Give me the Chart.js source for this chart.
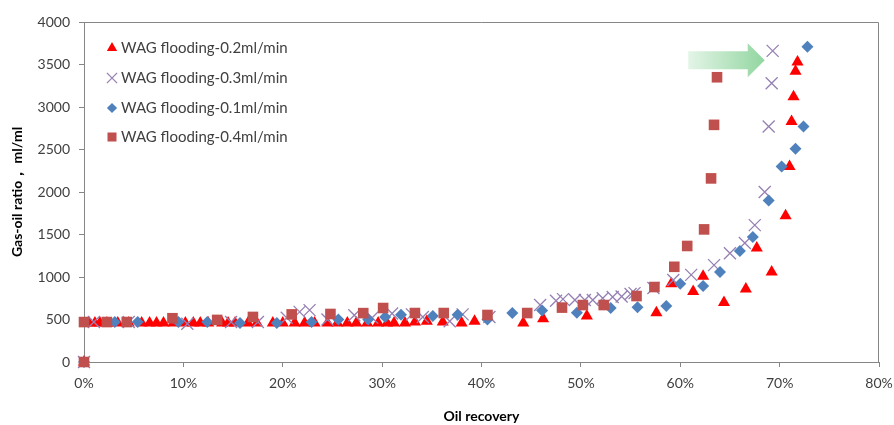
<!DOCTYPE html>
<html>
<head>
<meta charset="utf-8">
<script src="https://cdn.jsdelivr.net/npm/chart.js@4/dist/chart.umd.min.js"></script>
<style>
  html, body { margin: 0; padding: 0; background: #fff; }
  #wrap { width: 894px; height: 425px; position: relative; }
</style>
</head>
<body>
<div id="wrap"><canvas id="chart"></canvas></div>
<script>
// Oil recovery (%) vs gas-oil ratio (ml/ml)
const rate02X = [0, 0.5, 1.1, 1.6, 2.3, 3.4, 4.5, 5.8, 6.6, 7.3, 8.0, 9.0, 10.2, 11.0, 11.7, 12.5, 13.9, 14.5, 15.2, 16.5, 17.4, 19.0, 20.0, 21.2, 22.2, 23.2, 24.5, 25.5, 26.5, 27.4, 28.5, 29.6, 30.5, 31.2, 32.3, 33.3, 34.5, 36.1, 38.0, 39.3, 44.2, 46.2, 50.6, 57.6, 59.1, 61.3, 62.3, 64.4, 66.6, 67.7, 69.2, 70.6, 71.0, 71.2, 71.4, 71.6, 71.8];
const rate02Y = [0, 460, 460, 460, 460, 460, 460, 460, 460, 460, 460, 460, 460, 460, 460, 460, 460, 460, 460, 460, 460, 460, 460, 460, 460, 460, 460, 460, 460, 460, 460, 460, 460, 460, 460, 470, 480, 470, 460, 480, 460, 510, 540, 580, 920, 830, 1010, 700, 860, 1340, 1060, 1720, 2300, 2830, 3120, 3420, 3530];

const rate03X = [0, 1.0, 4.5, 10.4, 14.8, 17.5, 20.4, 21.7, 22.7, 24.5, 27.2, 29.0, 31.0, 33.0, 34.1, 36.8, 38.1, 40.8, 45.9, 47.5, 48.2, 49.4, 50.4, 51.2, 52.2, 53.2, 54.1, 55.0, 55.4, 57.3, 59.3, 61.1, 63.4, 65.0, 66.5, 67.5, 68.5, 68.9, 69.2, 69.3];
const rate03Y = [0, 470, 470, 450, 470, 470, 520, 590, 610, 500, 550, 520, 570, 560, 530, 480, 560, 530, 670, 720, 740, 730, 730, 730, 750, 765, 770, 800, 810, 870, 965, 1025, 1140, 1280, 1400, 1610, 2000, 2770, 3280, 3660];

const rate01X = [0, 3.1, 5.4, 9.5, 12.4, 15.7, 19.4, 22.9, 25.6, 28.6, 30.3, 31.9, 35.1, 37.6, 40.6, 43.1, 46.1, 49.6, 53.0, 55.7, 58.6, 60.0, 62.3, 64.0, 66.0, 67.3, 68.9, 70.2, 71.6, 72.4, 72.8];
const rate01Y = [0, 470, 470, 470, 470, 460, 460, 470, 500, 500, 530, 555, 540, 555, 500, 576, 605, 580, 635, 645, 660, 920, 895, 1060, 1305, 1470, 1900, 2300, 2510, 2770, 3710];

const rate04X = [0, 0, 2.3, 4.3, 8.9, 13.4, 17.0, 20.9, 24.8, 28.1, 30.1, 33.3, 36.2, 40.6, 44.6, 48.1, 50.2, 52.3, 55.6, 57.4, 59.4, 60.7, 62.4, 63.1, 63.4, 63.7];
const rate04Y = [0, 470, 470, 470, 515, 495, 530, 560, 565, 575, 635, 576, 576, 553, 576, 640, 670, 670, 776, 882, 1120, 1365, 1560, 2160, 2790, 3350];

const xTicks = [0, 10, 20, 30, 40, 50, 60, 70, 80];
const yTicks = [0, 500, 1000, 1500, 2000, 2500, 3000, 3500, 4000];

// arrow annotation in data coordinates: [tailX, headX, centerY]
const arrowSpan = [60.8, 68.5, 3550];

const FONT = "Lato, 'Open Sans', sans-serif";
const GREY = '#868686';

function pts(xs, ys) {
  return xs.map(function (x, i) { return { x: x, y: ys[i] }; });
}

const datasets = [
  { label: 'WAG flooding-0.2ml/min', data: pts(rate02X, rate02Y), pointStyle: 'triangle', pointRadius: 7,
    backgroundColor: '#FF0000', borderColor: '#FF0000', borderWidth: 0, order: 4, clip: false },
  { label: 'WAG flooding-0.3ml/min', data: pts(rate03X, rate03Y), pointStyle: 'crossRot', pointRadius: 8.5,
    backgroundColor: '#9680b3', borderColor: '#9680b3', borderWidth: 1.3, order: 3, clip: false },
  { label: 'WAG flooding-0.1ml/min', data: pts(rate01X, rate01Y), pointStyle: 'rectRot', pointRadius: 6,
    backgroundColor: '#4F81BD', borderColor: '#4F81BD', borderWidth: 0, order: 2, clip: false },
  { label: 'WAG flooding-0.4ml/min', data: pts(rate04X, rate04Y), pointStyle: 'rect', pointRadius: 7.5,
    backgroundColor: '#C0504D', borderColor: '#C0504D', borderWidth: 0, order: 1, clip: false }
];

// frame, arrow and the in-plot legend
const decor = {
  id: 'decor',
  afterDatasetsDraw: function (chart) {
    const ctx = chart.ctx;
    const a = chart.chartArea;
    const xs = chart.scales.x, ys = chart.scales.y;

    ctx.save();
    ctx.strokeStyle = GREY;
    ctx.lineWidth = 1;
    ctx.beginPath();
    ctx.moveTo(a.left, a.top + 0.5);
    ctx.lineTo(a.right - 0.5, a.top + 0.5);
    ctx.lineTo(a.right - 0.5, a.bottom);
    ctx.stroke();

    // green arrow
    const x0 = xs.getPixelForValue(arrowSpan[0]);
    const x1 = xs.getPixelForValue(arrowSpan[1]);
    const yc = ys.getPixelForValue(arrowSpan[2]);
    const headW = 17, bodyH = 9, headH = 17;
    const g = ctx.createLinearGradient(x0, 0, x1, 0);
    g.addColorStop(0, 'rgba(146,214,160,0.25)');
    g.addColorStop(1, 'rgba(146,214,160,1)');
    ctx.fillStyle = g;
    ctx.beginPath();
    ctx.moveTo(x0, yc - bodyH);
    ctx.lineTo(x1 - headW, yc - bodyH);
    ctx.lineTo(x1 - headW, yc - headH);
    ctx.lineTo(x1, yc);
    ctx.lineTo(x1 - headW, yc + headH);
    ctx.lineTo(x1 - headW, yc + bodyH);
    ctx.lineTo(x0, yc + bodyH);
    ctx.closePath();
    ctx.fill();

    // legend
    ctx.font = '15px ' + FONT;
    ctx.textBaseline = 'middle';
    const rows = [26, 56, 86, 115];
    chart.data.datasets.forEach(function (ds, i) {
      const cy = a.top + rows[i];
      const cx = a.left + 28;
      ctx.fillStyle = ds.backgroundColor;
      ctx.strokeStyle = ds.borderColor;
      ctx.lineWidth = ds.borderWidth;
      Chart.helpers.drawPoint(ctx, {
        pointStyle: ds.pointStyle, radius: ds.pointRadius * 0.85, rotation: 0,
        borderWidth: ds.borderWidth
      }, cx, cy);
      ctx.fillStyle = '#404040';
      ctx.fillText(ds.label, a.left + 37, cy);
    });
    ctx.restore();
  }
};

new Chart(document.getElementById('chart'), {
  type: 'scatter',
  data: { datasets: datasets },
  plugins: [decor],
  options: {
    responsive: true,
    maintainAspectRatio: false,
    animation: false,
    layout: { padding: { top: 22, right: 0, left: 0, bottom: 0 } },
    plugins: { legend: { display: false }, tooltip: { enabled: false } },
    scales: {
      x: {
        type: 'linear', min: 0, max: 80,
        afterBuildTicks: function (s) { s.ticks = xTicks.map(function (v) { return { value: v }; }); },
        afterFit: function (s) { s.height = 63; s.paddingRight = 15; s.paddingLeft = 0; },
        grid: { drawOnChartArea: false, drawTicks: true, tickLength: 5, color: GREY },
        border: { color: GREY, width: 1 },
        ticks: { padding: 8, color: '#404040', font: { family: FONT, size: 14 },
                 callback: function (v) { return v + '%'; } },
        title: { display: true, text: 'Oil recovery', color: '#000',
                 font: { family: FONT, size: 14, weight: 'bold' }, padding: { top: 0, bottom: 0 } }
      },
      y: {
        type: 'linear', min: 0, max: 4000,
        afterBuildTicks: function (s) { s.ticks = yTicks.map(function (v) { return { value: v }; }); },
        afterFit: function (s) { s.width = 84; },
        grid: { drawOnChartArea: false, drawTicks: true, tickLength: 5, color: GREY },
        border: { color: GREY, width: 1 },
        ticks: { padding: 9, color: '#404040', font: { family: FONT, size: 14 },
                 callback: function (v) { return String(v); } },
        title: { display: true, text: 'Gas-oil ratio， ml/ml', color: '#000',
                 font: { family: FONT, size: 14, weight: 'bold' }, padding: { top: 9, bottom: 0 } }
      }
    }
  }
});
</script>
</body>
</html>
